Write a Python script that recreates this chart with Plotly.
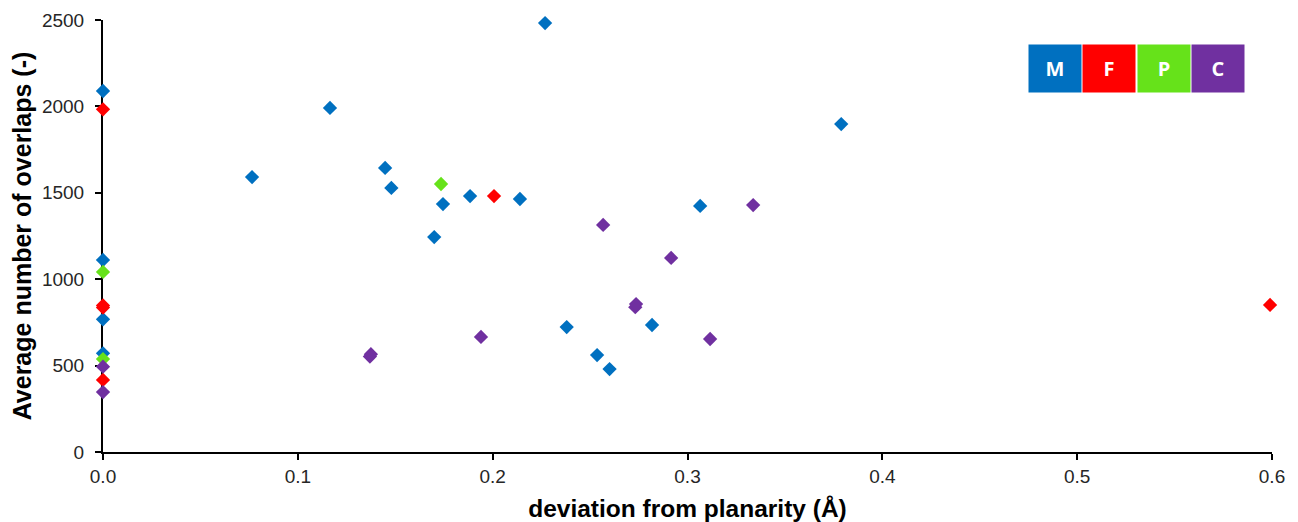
import plotly.graph_objects as go

# M series (blue)
m_x = [0.0, 0.0, 0.0, 0.0, 0.0765, 0.1165, 0.1448, 0.148, 0.170, 0.1745, 0.1884, 0.214,
       0.2269, 0.238, 0.2536, 0.260, 0.2818, 0.3065, 0.3789]
m_y = [2089, 1111, 768, 571, 1591, 1991, 1644, 1528, 1244, 1435, 1481, 1464,
       2482, 723, 561, 480, 735, 1424, 1898]
# F series (red)
f_x = [0.0, 0.0, 0.0, 0.0, 0.2007, 0.599]
f_y = [1983, 848, 836, 417, 1481, 851]
# P series (green)
p_x = [0.0, 0.0, 0.1735]
p_y = [1042, 538, 1551]
# C series (purple)
c_x = [0.0, 0.0, 0.137, 0.1375, 0.194, 0.2567, 0.2732, 0.2736, 0.2916, 0.3116, 0.3337]
c_y = [494, 347, 552, 566, 666, 1314, 838, 856, 1123, 654, 1429]

series_names = ["M", "F", "P", "C"]
series_colors = ["#0070C0", "#FF0000", "#66E21A", "#7030A0"]
series_x = [m_x, f_x, p_x, c_x]
series_y = [m_y, f_y, p_y, c_y]

x_ticks = [0.0, 0.1, 0.2, 0.3, 0.4, 0.5, 0.6]
y_ticks = [0, 500, 1000, 1500, 2000, 2500]

fig = go.Figure()
for name, col, xs, ys in zip(series_names, series_colors, series_x, series_y):
    fig.add_trace(go.Scatter(
        x=xs, y=ys, mode="markers", name=name, showlegend=False,
        cliponaxis=False,
        marker=dict(symbol="diamond", size=11, color=col, line=dict(width=0)),
    ))

# Legend boxes as annotations
box_x0 = 0.7913
box_step = 0.0464
for i, (name, col) in enumerate(zip(series_names, series_colors)):
    fig.add_annotation(
        xref="paper", yref="paper",
        x=box_x0 + i * box_step, y=0.8877, xanchor="left", yanchor="middle",
        text="<b>%s</b>" % name, showarrow=False,
        bgcolor=col, width=52, height=47,
        font=dict(family="Open Sans, Arial, sans-serif", size=20, color="white"),
        borderpad=0,
    )

# page body has an 8px margin, so the figure is sized to fit the window
fig.update_layout(
    width=1290, height=514,
    margin=dict(l=95, r=26, t=12, b=70),
    plot_bgcolor="white", paper_bgcolor="white",
    font=dict(family="Liberation Sans, Arial, sans-serif", color="black"),
)
fig.update_xaxes(
    range=[0, 0.6], tickvals=x_ticks, tickformat=".1f", automargin=False,
    showgrid=False, zeroline=False, showline=True, linecolor="black", linewidth=2,
    ticks="outside", ticklen=6, tickwidth=1.5, tickcolor="black",
    tickfont=dict(size=19, color="#262626"), layer="below traces",
    title=dict(text="<b>deviation from planarity (Å)</b>", font=dict(size=24.5), standoff=14),
)
fig.update_yaxes(
    range=[0, 2500], tickvals=y_ticks, automargin=False, ticklabelstandoff=7,
    showgrid=False, zeroline=False, showline=True, linecolor="black", linewidth=2,
    ticks="outside", ticklen=6, tickwidth=1.5, tickcolor="black",
    tickfont=dict(size=19, color="#262626"), layer="below traces",
    title=dict(text="<b>Average number of overlaps (-)</b>", font=dict(size=25), standoff=9),
)

fig.write_html("out.html")
